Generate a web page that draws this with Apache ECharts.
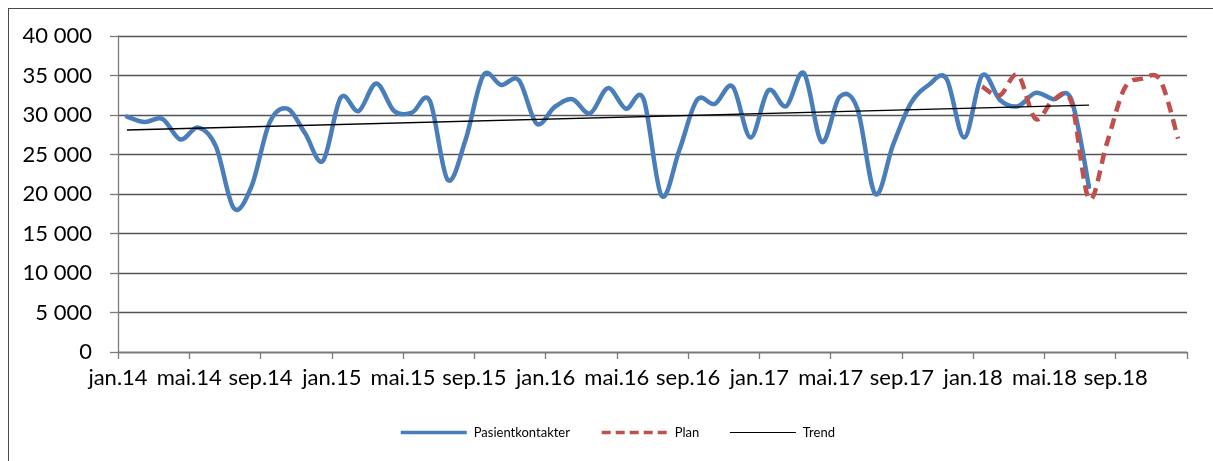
<!DOCTYPE html>
<html>
<head>
<meta charset="utf-8">
<script src="https://cdn.jsdelivr.net/npm/echarts@6/dist/echarts.min.js"></script>
<style>
  html, body { margin: 0; padding: 0; background: #fff; }
  #wrap { position: relative; width: 1213px; height: 461px; overflow: hidden; }
  #frame { position: absolute; left: 8px; top: 8px; width: 1400px; height: 600px;
           border-left: 1.5px solid #4a4a4a; border-top: 1px solid #4a4a4a; }
  #chart { position: absolute; left: 0; top: 0; width: 1213px; height: 461px; }
</style>
</head>
<body>
<div id="wrap">
  <div id="frame"></div>
  <div id="chart"></div>
</div>
<script>
// Month labels shown under every fourth month (jan.14 ... sep.18)
const tickLabels = ['jan.14', 'mai.14', 'sep.14', 'jan.15', 'mai.15', 'sep.15', 'jan.16', 'mai.16',
                    'sep.16', 'jan.17', 'mai.17', 'sep.17', 'jan.18', 'mai.18', 'sep.18'];

// Monthly patient contacts, jan.14 – jul.18
const pasientkontakter = [
  29800, 29100, 29500, 26900, 28400, 26000, 18200, 21000, 29000, 30800, 27700, 24200,
  32200, 30500, 34000, 30500, 30300, 31800, 21800, 26800, 35000, 33800, 34400, 28900,
  31000, 32000, 30200, 33400, 30800, 32000, 19800, 25500, 31900, 31400, 33600, 27150,
  33100, 31100, 35300, 26600, 32300, 30800, 20000, 26200, 31500, 33800, 34600, 27150,
  35000, 31900, 31100, 32800, 32000, 32000, 20900
];

// Plan for 2018 (jan.18 – des.18)
const planStartMonth = 48;
const plan = [33600, 32500, 35100, 29500, 31900, 31700, 19400, 26400, 33400, 34600, 34400, 27000];

// Linear trend of the contacts: value at the first and the last month
const trendMonths = [0, 54];
const trendValues = [28100, 31250];

const FONT = 'Lato, "Liberation Sans", sans-serif';
const BLUE = '#4A7EBB';
const RED = '#C0504D';

function thousands(v) {
  return String(v).replace(/\B(?=(\d{3})+(?!\d))/g, ' ');
}

// Smooth curve through all points of a series (Catmull-Rom as cubic Bezier),
// positioned with the grid's own axes through api.coord.
function smoothCurve(style) {
  return function (params, api) {
    if (params.dataIndexInside !== 0) return null;
    const n = params.dataInsideLength;
    const pts = [];
    for (let j = 0; j < n; j++) {
      pts.push(api.coord([api.value(0, j), api.value(1, j)]));
    }
    const k = 1 / 6;
    let d = 'M' + pts[0][0] + ' ' + pts[0][1];
    for (let j = 0; j < n - 1; j++) {
      const p0 = pts[Math.max(j - 1, 0)];
      const p1 = pts[j];
      const p2 = pts[j + 1];
      const p3 = pts[Math.min(j + 2, n - 1)];
      const c1x = p1[0] + (p2[0] - p0[0]) * k;
      const c1y = p1[1] + (p2[1] - p0[1]) * k;
      const c2x = p2[0] - (p3[0] - p1[0]) * k;
      const c2y = p2[1] - (p3[1] - p1[1]) * k;
      d += ' C' + c1x + ' ' + c1y + ' ' + c2x + ' ' + c2y + ' ' + p2[0] + ' ' + p2[1];
    }
    return {
      type: 'path',
      shape: { pathData: d },
      style: Object.assign({ fill: 'none' }, style)
    };
  };
}

const chart = echarts.init(document.getElementById('chart'), null, { renderer: 'canvas' });

chart.setOption({
  animation: false,
  backgroundColor: 'transparent',
  grid: { left: 118, right: 26, top: 36, bottom: 109, containLabel: false },
  legend: {
    left: 394,
    top: 421,
    itemWidth: 66,
    itemHeight: 14,
    itemGap: 30,
    itemStyle: { opacity: 0 },
    textStyle: { fontFamily: FONT, fontSize: 13, color: '#000', padding: [0, 0, 0, 2] },
    data: [
      { name: 'Pasientkontakter', lineStyle: { width: 3.5 } },
      { name: 'Plan', lineStyle: { width: 3.5, type: [9, 5] } },
      { name: 'Trend', lineStyle: { width: 1.2 } }
    ]
  },
  xAxis: {
    type: 'value',
    min: 0,
    max: 60,
    interval: 4,
    axisLine: { show: true, lineStyle: { color: '#7a7a7a', width: 1.3 } },
    axisTick: { show: true, length: 7, lineStyle: { color: '#7a7a7a', width: 1.3 } },
    splitLine: { show: false },
    axisLabel: {
      margin: 15,
      fontFamily: FONT,
      fontSize: 22,
      color: '#000',
      showMaxLabel: true,
      formatter: function (v) {
        const k = Math.round(v / 4);
        return tickLabels[k] || '';
      }
    }
  },
  yAxis: {
    type: 'value',
    min: 0,
    max: 40000,
    interval: 5000,
    axisLine: { show: true, lineStyle: { color: '#7a7a7a', width: 1.3 } },
    axisTick: { show: true, length: 8, lineStyle: { color: '#7a7a7a', width: 1.3 } },
    splitLine: { show: true, lineStyle: { color: '#555', width: 1.3 } },
    axisLabel: {
      margin: 26,
      fontFamily: FONT,
      fontSize: 22,
      color: '#000',
      formatter: function (v) { return thousands(v); }
    }
  },
  series: [
    // Legend entries for the two curves (the curves themselves are drawn below)
    {
      name: 'Pasientkontakter',
      type: 'line',
      symbol: 'none',
      lineStyle: { color: BLUE, width: 4.5 },
      itemStyle: { color: BLUE },
      data: []
    },
    {
      name: 'Plan',
      type: 'line',
      symbol: 'none',
      lineStyle: { color: RED, width: 4.5, type: [9, 5] },
      itemStyle: { color: RED },
      data: []
    },
    {
      name: 'Pasientkontakter',
      type: 'custom',
      coordinateSystem: 'cartesian2d',
      encode: { x: 0, y: 1 },
      renderItem: smoothCurve({ stroke: BLUE, lineWidth: 4.5, lineCap: 'round', lineJoin: 'round' }),
      itemStyle: { color: BLUE },
      data: pasientkontakter.map((v, i) => [i + 0.5, v]),
      z: 2
    },
    {
      name: 'Plan',
      type: 'custom',
      coordinateSystem: 'cartesian2d',
      encode: { x: 0, y: 1 },
      renderItem: smoothCurve({ stroke: RED, lineWidth: 4.5, lineDash: [11, 7], lineCap: 'butt' }),
      itemStyle: { color: RED },
      data: plan.map((v, j) => [planStartMonth + j + 0.5, v]),
      z: 3
    },
    {
      name: 'Trend',
      type: 'line',
      smooth: false,
      symbol: 'none',
      lineStyle: { color: '#000', width: 1.5 },
      itemStyle: { color: '#000' },
      data: trendMonths.map((m, j) => [m + 0.5, trendValues[j]]),
      z: 4
    }
  ]
});
</script>
</body>
</html>
